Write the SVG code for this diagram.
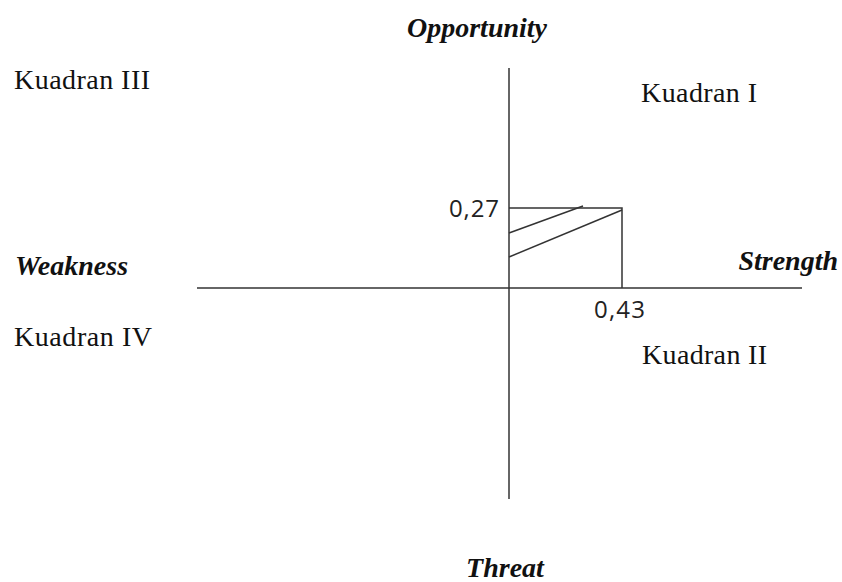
<svg xmlns="http://www.w3.org/2000/svg" width="842" height="582" viewBox="0 0 842 582">
<style>
.q{font-family:"Liberation Serif","Times New Roman",serif;font-size:28px;fill:#111}
.ax{font-family:"Liberation Serif","Times New Roman",serif;font-size:28px;font-weight:bold;font-style:italic;fill:#111}
.v{font-family:"Open Sans","Liberation Sans",sans-serif;font-size:24px;fill:#222}
.ln{stroke:#333;stroke-width:1.5;fill:none}
</style>
<rect width="842" height="582" fill="#fff"/>
<g id="connectors">
<line class="ln" x1="509" y1="68" x2="509" y2="499"/>
<line class="ln" x1="197" y1="288" x2="802" y2="288"/>
<polyline class="ln" points="509,208 622,208 622,288"/>
<line class="ln" x1="509" y1="233" x2="583" y2="206"/>
<line class="ln" x1="509" y1="257" x2="622" y2="210"/>
</g>
<g id="opportunity"><text class="ax" x="477" y="37" text-anchor="middle">Opportunity</text></g>
<g id="threat"><text class="ax" x="505" y="577" text-anchor="middle">Threat</text></g>
<g id="weakness"><text class="ax" x="15" y="275">Weakness</text></g>
<g id="strength"><text class="ax" x="838" y="270" text-anchor="end">Strength</text></g>
<g id="kuadran3"><text class="q" x="14" y="89" textLength="136">Kuadran III</text></g>
<g id="kuadran1"><text class="q" x="641" y="102" textLength="116">Kuadran I</text></g>
<g id="kuadran4"><text class="q" x="14" y="346" textLength="138">Kuadran IV</text></g>
<g id="kuadran2"><text class="q" x="642" y="364" textLength="125">Kuadran II</text></g>
<g id="v027"><text class="v" x="449" y="217" textLength="50">0,27</text></g>
<g id="v043"><text class="v" x="594" y="318" textLength="51">0,43</text></g>
</svg>
